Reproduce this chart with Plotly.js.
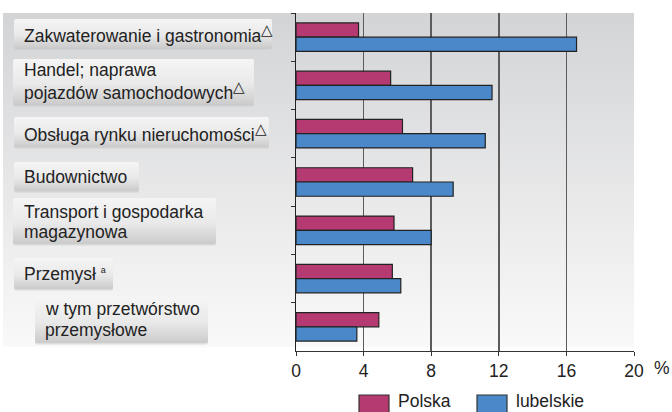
<!DOCTYPE html>
<html>
<head>
<meta charset="utf-8">
<script src="https://cdn.plot.ly/plotly-3.0.1.min.js"></script>
<style>html,body{margin:0;padding:0;background:#fff;}#chart{width:672px;height:412px;}</style>
</head>
<body>
<div id="chart"></div>
<script>
// ---- data ----
var categories = [
  "Zakwaterowanie i gastronomia",
  "Handel; naprawa<br>pojazdów samochodowych",
  "Obsługa rynku nieruchomości",
  "Budownictwo",
  "Transport i gospodarka<br>magazynowa",
  "Przemysł",
  "w tym przetwórstwo<br>przemysłowe"
];
var footnoteMarks = ["△", "△", "△", "", "", "a", ""];
var polska = [3.7, 5.6, 6.3, 6.9, 5.8, 5.7, 4.9];
var lubelskie = [16.6, 11.6, 11.2, 9.3, 8.0, 6.2, 3.6];
var seriesNames = ["Polska", "lubelskie"];
var xTicks = [0, 4, 8, 12, 16, 20];
var unitLabel = "%";

// ---- layout geometry (pixels) ----
var W = 672, H = 412;
var M = {l: 296, r: 38, t: 13, b: 61};
var PW = W - M.l - M.r, PH = H - M.t - M.b;
function px(x) { return (x - M.l) / PW; }
function py(y) { return (H - M.b - y) / PH; }

var colors = ["#b63a72", "#4a88c9"];
var FONT = '"Liberation Sans", Arial, sans-serif';

// label boxes [x0, y0, x1, y1] and text placement
var boxes = [
  [14, 19, 272, 48], [13, 59, 254, 105], [14, 117, 269, 147], [14, 162, 139, 191],
  [13, 198, 216, 244], [14, 258, 113, 289], [35, 297, 208, 343]
];
var textX = [22, 22, 22, 22, 22, 22, 43];
var lineY = [[34], [70, 91], [132], [176.5], [212, 232], [274], [309, 330]];

// background svg (panel gradient + label boxes)
var svg = "<svg xmlns='http://www.w3.org/2000/svg' width='" + W + "' height='" + H + "' viewBox='0 0 " + W + " " + H + "'>" +
  "<defs>" +
  "<linearGradient id='p' x1='0' y1='0' x2='0' y2='1'><stop offset='0' stop-color='#d3d4d6'/><stop offset='1' stop-color='#f9f9f9'/></linearGradient>" +
  "<linearGradient id='b' x1='0' y1='0' x2='0' y2='1'><stop offset='0' stop-color='#f5f5f5'/><stop offset='0.55' stop-color='#e9e9e9'/><stop offset='1' stop-color='#cbcbcb'/></linearGradient>" +
  "</defs>" +
  "<rect x='3' y='13' width='631' height='334' fill='url(#p)'/>";
boxes.forEach(function (b) {
  svg += "<rect x='" + (b[0]) + "' y='" + (b[1] + 1.5) + "' width='" + (b[2] - b[0]) + "' height='" + (b[3] - b[1]) + "' rx='2' fill='#bdbdbd' opacity='0.45'/>";
  svg += "<rect x='" + b[0] + "' y='" + b[1] + "' width='" + (b[2] - b[0]) + "' height='" + (b[3] - b[1]) + "' rx='2' fill='url(#b)'/>";
});
svg += "</svg>";

var annotations = [];
categories.forEach(function (c, i) {
  var lines = c.split("<br>");
  lines.forEach(function (ln, j) {
    var t = ln;
    if (j === lines.length - 1 && footnoteMarks[i]) {
      if (footnoteMarks[i] === "a") t += " <sup><span style='font-size:9px'>a</span></sup>";
      else t += "<sup><span style='font-size:15px'>" + footnoteMarks[i] + "</span></sup>";
    }
    annotations.push({
      xref: "paper", yref: "paper", x: px(textX[i]), y: py(lineY[i][j]),
      xanchor: "left", yanchor: "middle", showarrow: false, text: t,
      font: {family: FONT, size: 17.5, color: "#222"}
    });
  });
});
annotations.push({
  xref: "paper", yref: "paper", x: px(652), y: py(368), xanchor: "left", yanchor: "middle",
  showarrow: false, text: unitLabel, font: {family: FONT, size: 17.5, color: "#222"}
});

// custom legend
var legX = [359, 477];
var shapes = [];
seriesNames.forEach(function (n, i) {
  shapes.push({
    type: "rect", xref: "paper", yref: "paper",
    x0: px(legX[i]), x1: px(legX[i] + 30), y0: py(395), y1: py(420),
    fillcolor: colors[i], line: {color: "#333", width: 1.2}
  });
  annotations.push({
    xref: "paper", yref: "paper", x: px(legX[i] + 38), y: py(412), xanchor: "left", yanchor: "bottom",
    showarrow: false, borderpad: 0, text: n, font: {family: FONT, size: 17.5, color: "#222"}
  });
});

var traces = [polska, lubelskie].map(function (vals, i) {
  return {
    type: "bar", orientation: "h", name: seriesNames[i],
    x: vals, y: categories,
    marker: {color: colors[i], line: {color: "#222", width: 1.2}},
    hoverinfo: "x+name"
  };
});

var layout = {
  width: W, height: H,
  margin: M,
  paper_bgcolor: "rgba(0,0,0,0)",
  plot_bgcolor: "rgba(0,0,0,0)",
  showlegend: false,
  barmode: "group",
  bargap: 0.41,
  bargroupgap: 0,
  font: {family: FONT, size: 17.5, color: "#222"},
  xaxis: {
    range: [0, 20], tickvals: xTicks, ticktext: xTicks.map(String),
    showgrid: true, gridcolor: "#5c5c5c", gridwidth: 1.5,
    zeroline: false, showline: true, linecolor: "#333", linewidth: 1.2,
    ticks: "outside", ticklen: 4, tickcolor: "#333",
    tickfont: {family: FONT, size: 17.5, color: "#222"}
  },
  yaxis: {
    type: "category", autorange: "reversed",
    showticklabels: false, showgrid: false, zeroline: false,
    showline: true, linecolor: "#222", linewidth: 1.5,
    ticks: "outside", tickson: "boundaries", ticklen: 4, tickcolor: "#333"
  },
  images: [{
    source: "data:image/svg+xml;charset=utf-8," + encodeURIComponent(svg),
    xref: "paper", yref: "paper",
    x: px(0), y: py(0), sizex: W / PW, sizey: H / PH,
    xanchor: "left", yanchor: "top", sizing: "stretch", layer: "below"
  }],
  shapes: shapes,
  annotations: annotations
};

Plotly.newPlot("chart", traces, layout, {displayModeBar: false, staticPlot: true});
</script>
</body>
</html>
